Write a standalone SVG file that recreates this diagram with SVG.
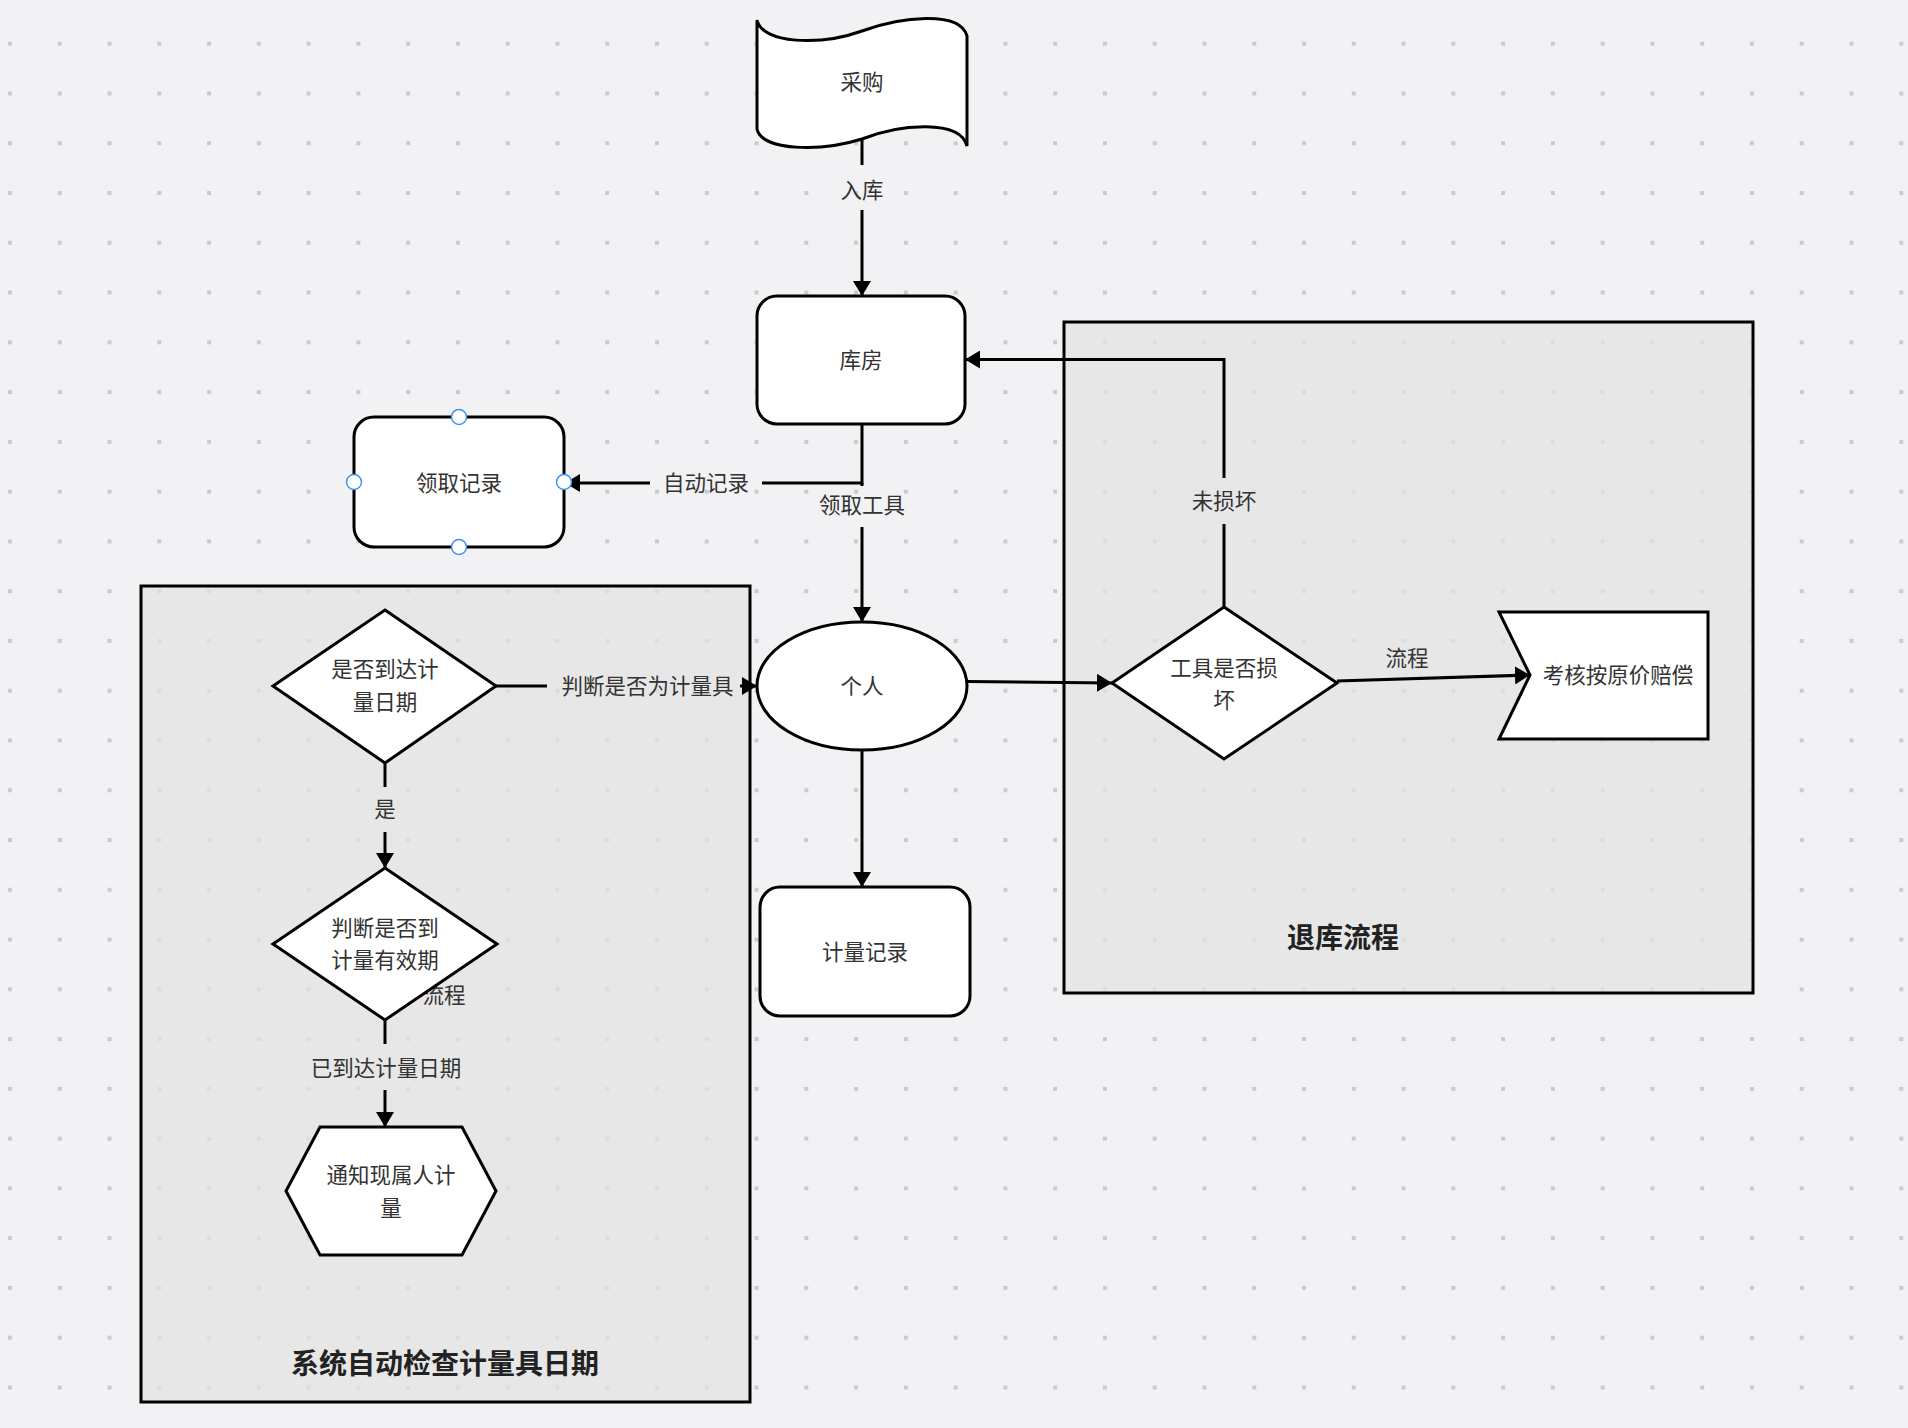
<svg xmlns="http://www.w3.org/2000/svg" width="1908" height="1428" viewBox="0 0 1908 1428">
<defs>
<pattern id="dots" x="8" y="41.7" width="49.77" height="49.77" patternUnits="userSpaceOnUse">
<rect x="0" y="0" width="4" height="4" fill="#cbcbcd"/>
</pattern>
<marker id="arr" viewBox="0 0 15 18" refX="15" refY="9" markerWidth="15" markerHeight="18" markerUnits="userSpaceOnUse" orient="auto">
<path d="M0,0 L15,9 L0,18 Z" fill="#000"/>
</marker>
<style>
.shape{fill:#fff;stroke:#000;stroke-width:3;stroke-linejoin:miter}
.group{fill:#e3e3e3;fill-opacity:0.7;stroke:#000;stroke-width:3}
.edge{fill:none;stroke:#000;stroke-width:3}
.arrow{marker-end:url(#arr)}
text{font-family:"Noto Sans CJK SC","Noto Sans",sans-serif;font-size:21.5px;fill:#333;text-anchor:middle;dominant-baseline:central}
.title{font-size:28px;font-weight:bold;fill:#222}
.handle{fill:#fff;stroke:#3d93f0;stroke-width:1.5}
</style>
</defs>
<rect x="0" y="0" width="1908" height="1428" fill="#f2f2f4"/>
<rect x="0" y="0" width="1908" height="1428" fill="url(#dots)"/>

<g id="group-check">
<rect class="group" x="141" y="586" width="609" height="816"/>
<text class="title" x="445" y="1362">系统自动检查计量具日期</text>
</g>
<g id="group-return">
<rect class="group" x="1064" y="322" width="689" height="671"/>
<text class="title" x="1343" y="936">退库流程</text>
</g>

<g id="connectors">
<path class="edge" d="M862,137 V165"/>
<path class="edge arrow" d="M862,210 V296"/>
<text x="862" y="188.5">入库</text>

<path class="edge" d="M862,424 V483 H762"/>
<path class="edge arrow" d="M650,483 H565"/>
<text x="706" y="481.5">自动记录</text>

<path class="edge" d="M862,483 V486"/>
<path class="edge arrow" d="M862,527 V622"/>
<text x="862" y="503.5">领取工具</text>

<path class="edge" d="M496,686 H547"/>
<path class="edge arrow" d="M740,686 H757"/>
<text x="647.5" y="684.5">判断是否为计量具</text>

<path class="edge" d="M385,763 V787"/>
<path class="edge arrow" d="M385,832 V868"/>
<text x="385" y="807.5">是</text>

<path class="edge" d="M385,1020 V1044"/>
<path class="edge arrow" d="M385,1090 V1127"/>
<text x="386" y="1066.5">已到达计量日期</text>

<path class="edge arrow" d="M862,750 V887"/>

<path class="edge arrow" d="M967,681.5 L1112,683"/>

<path class="edge" d="M1224,607 V524"/>
<path class="edge arrow" d="M1224,478 V359.5 H965"/>
<text x="1224" y="499.5">未损坏</text>

<path class="edge arrow" d="M1337,681 L1530,675"/>
<text x="1407" y="656.5">流程</text>

<text x="444" y="993.5">流程</text>
</g>

<g id="node-purchase">
<path class="shape" d="M757,20 C762,44 820,46 862,31 C900,17 960,10 967,36 L967,146 C960,119 900,124 862,139 C820,152 762,151 757,129 Z"/>
<text x="862" y="80.5">采购</text>
</g>
<g id="node-warehouse">
<rect class="shape" x="757" y="296" width="208" height="128" rx="20"/>
<text x="861" y="358.5">库房</text>
</g>
<g id="node-pickup-record">
<rect class="shape" x="354" y="417" width="210" height="130" rx="20"/>
<text x="459" y="481.5">领取记录</text>
<ellipse class="handle" cx="459" cy="417" rx="7.5" ry="7.5"/>
<ellipse class="handle" cx="459" cy="547" rx="7.5" ry="7.5"/>
<ellipse class="handle" cx="354" cy="482" rx="7.5" ry="7.5"/>
<ellipse class="handle" cx="564" cy="482" rx="7.5" ry="7.5"/>
</g>
<g id="node-person">
<ellipse class="shape" cx="862" cy="686" rx="105" ry="64"/>
<text x="862" y="684.5">个人</text>
</g>
<g id="node-measure-record">
<rect class="shape" x="760" y="887" width="210" height="129" rx="20"/>
<text x="865" y="950.5">计量记录</text>
</g>
<g id="node-reach-date">
<polygon class="shape" points="385,610 496,686 385,763 273,686"/>
<text x="385" y="667.5">是否到达计</text>
<text x="385" y="700.5">量日期</text>
</g>
<g id="node-valid-period">
<polygon class="shape" points="385,868 497,944 385,1020 273,944"/>
<text x="385" y="926.5">判断是否到</text>
<text x="385" y="958.5">计量有效期</text>
</g>
<g id="node-notify">
<polygon class="shape" points="320,1127 462,1127 496,1191 462,1255 320,1255 286,1191"/>
<text x="391" y="1173.5">通知现属人计</text>
<text x="391" y="1206.5">量</text>
</g>
<g id="node-damaged">
<polygon class="shape" points="1224,607 1337,683 1224,759 1112,683"/>
<text x="1224" y="666.5">工具是否损</text>
<text x="1224" y="698.5">坏</text>
</g>
<g id="node-compensate">
<polygon class="shape" points="1499,612 1708,612 1708,739 1499,739 1530,675"/>
<text x="1618" y="673.5">考核按原价赔偿</text>
</g>
</svg>
